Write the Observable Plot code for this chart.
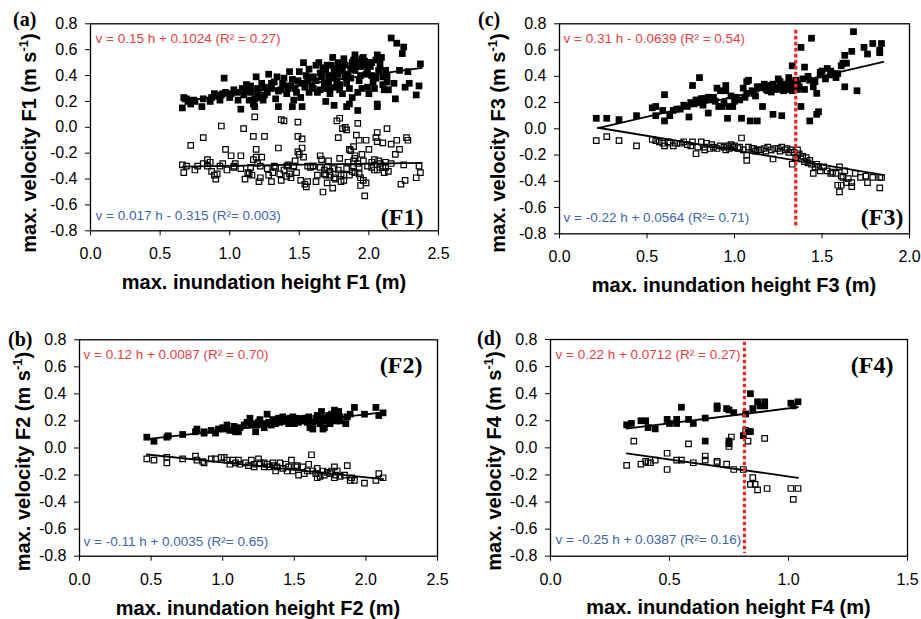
<!DOCTYPE html>
<html>
<head>
<meta charset="utf-8">
<script src="https://cdn.jsdelivr.net/npm/d3@7"></script>
<script src="https://cdn.jsdelivr.net/npm/@observablehq/plot@0.6"></script>
<style>
  body { margin: 0; background: #fff; }
  #wrap { position: relative; width: 921px; height: 619px; overflow: hidden; background: #fff; }
  #wrap svg { position: absolute; overflow: visible; }
</style>
</head>
<body>
<div id="wrap"></div>
<script>
// ---------- tick labels ----------
const yTicks = [-0.8, -0.6, -0.4, -0.2, 0, 0.2, 0.4, 0.6, 0.8];
const xTicksF1 = [0, 0.5, 1, 1.5, 2, 2.5];
const xTicksF2 = [0, 0.5, 1, 1.5, 2, 2.5];
const xTicksF3 = [0, 0.5, 1, 1.5, 2];
const xTicksF4 = [0, 0.5, 1, 1.5];

// ---------- F1 ----------
const f1Filled = [[0.66,0.15],[0.67,0.23],[0.69,0.22],[0.72,0.18],[0.74,0.21],[0.80,0.16],[0.81,0.22],[0.86,0.20],[0.87,0.23],[0.89,0.26],[0.93,0.21],[0.94,0.25],[0.96,0.38],[0.97,0.27],[1.01,0.26],[1.03,0.29],[1.06,0.21],[1.08,0.14],[1.09,0.30],[1.13,0.28],[1.14,0.21],[1.15,0.32],[1.17,0.18],[1.18,0.16],[1.19,0.39],[1.20,0.26],[1.21,0.23],[1.23,0.34],[1.25,0.31],[1.27,0.27],[1.28,0.41],[1.30,0.30],[1.32,0.35],[1.34,0.39],[1.35,0.16],[1.37,0.29],[1.38,0.34],[1.39,0.38],[1.41,0.26],[1.43,0.43],[1.44,0.32],[1.45,0.16],[1.46,0.21],[1.47,0.30],[1.49,0.36],[1.50,0.43],[1.51,0.23],[1.52,0.16],[1.53,0.50],[1.54,0.31],[1.56,0.36],[1.57,0.45],[1.59,0.32],[1.60,0.39],[1.62,0.48],[1.64,0.50],[1.65,0.29],[1.66,0.39],[1.68,0.34],[1.69,0.20],[1.70,0.48],[1.71,0.40],[1.72,0.26],[1.74,0.54],[1.75,0.43],[1.76,0.31],[1.77,0.36],[1.78,0.50],[1.80,0.47],[1.81,0.26],[1.82,0.53],[1.83,0.39],[1.84,0.34],[1.86,0.18],[1.87,0.45],[1.88,0.23],[1.89,0.52],[1.90,0.56],[1.92,0.27],[1.93,0.36],[1.94,0.47],[1.95,0.53],[1.96,0.54],[1.98,0.41],[1.99,0.31],[2.00,0.26],[2.01,0.47],[2.02,0.50],[2.04,0.30],[2.05,0.38],[2.06,0.18],[2.06,0.56],[2.07,0.44],[2.08,0.52],[2.10,0.39],[2.11,0.29],[2.13,0.40],[2.14,0.29],[2.16,0.69],[2.18,0.34],[2.19,0.22],[2.20,0.65],[2.22,0.44],[2.24,0.57],[2.25,0.62],[2.26,0.31],[2.28,0.43],[2.29,0.34],[2.34,0.25],[2.36,0.32],[2.37,0.49],[1.92,0.13],[2.06,0.16],[1.75,0.17],[1.84,0.16],
[1.55,0.40],[1.58,0.38],[1.62,0.36],[1.65,0.42],[1.67,0.46],[1.69,0.44],[1.71,0.35],[1.73,0.48],[1.74,0.38],[1.76,0.45],[1.78,0.41],[1.79,0.33],[1.81,0.44],[1.83,0.48],[1.85,0.41],[1.87,0.38],[1.88,0.50],[1.90,0.44],[1.91,0.48],[1.93,0.51],[1.94,0.40],[1.96,0.48],[1.97,0.51],[1.99,0.45],[2.00,0.50],[2.02,0.40],[2.03,0.35],[2.05,0.52],[2.08,0.47],[2.09,0.54],[2.12,0.44],[2.13,0.35],[1.60,0.30],[1.63,0.27],[1.68,0.30],[1.72,0.30],[1.79,0.29],[1.86,0.30],[1.95,0.30],[2.10,0.33],[1.20,0.30],[1.10,0.25],[1.00,0.23],[0.90,0.24],[1.15,0.27],[1.25,0.25],[1.30,0.34],[1.35,0.28],[1.40,0.32],[1.45,0.37],[1.48,0.27],[1.52,0.34],[0.75,0.20],[0.70,0.20],[0.95,0.26],[1.05,0.27],[1.12,0.33],[1.24,0.21],[1.42,0.30],[1.57,0.27],[1.33,0.22],[1.18,0.22]];
const f1Open = [[0.66,-0.29],[0.67,-0.35],[0.69,-0.30],[0.72,-0.14],[0.75,-0.33],[0.81,-0.08],[0.81,-0.28],[0.84,-0.25],[0.86,-0.27],[0.87,-0.34],[0.89,-0.37],[0.90,-0.40],[0.91,-0.36],[0.94,0.01],[0.95,-0.28],[0.97,-0.17],[0.98,-0.33],[1.01,-0.22],[1.03,-0.30],[1.04,-0.28],[1.08,-0.22],[1.08,-0.32],[1.10,-0.01],[1.11,-0.40],[1.13,-0.35],[1.14,-0.36],[1.16,-0.37],[1.17,-0.07],[1.17,-0.25],[1.18,0.08],[1.19,-0.17],[1.19,-0.23],[1.20,-0.28],[1.21,-0.42],[1.22,-0.39],[1.23,-0.23],[1.25,-0.07],[1.27,-0.32],[1.28,-0.37],[1.30,-0.42],[1.31,-0.35],[1.33,-0.31],[1.35,-0.16],[1.36,-0.36],[1.37,0.06],[1.37,-0.41],[1.39,0.05],[1.39,-0.33],[1.41,-0.38],[1.42,-0.29],[1.43,-0.36],[1.44,-0.39],[1.46,-0.30],[1.47,-0.26],[1.48,-0.35],[1.49,0.04],[1.49,-0.07],[1.49,-0.19],[1.50,-0.21],[1.51,-0.41],[1.52,-0.16],[1.52,-0.09],[1.53,-0.23],[1.54,-0.44],[1.55,-0.46],[1.56,-0.42],[1.58,-0.31],[1.60,-0.30],[1.62,-0.42],[1.63,-0.37],[1.65,-0.22],[1.66,-0.25],[1.67,-0.50],[1.68,-0.33],[1.69,-0.37],[1.70,-0.43],[1.71,-0.26],[1.72,-0.37],[1.74,-0.47],[1.75,-0.39],[1.77,0.05],[1.78,-0.08],[1.79,-0.24],[1.79,0.07],[1.80,-0.42],[1.81,-0.01],[1.82,-0.37],[1.83,0.00],[1.84,-0.02],[1.86,-0.17],[1.87,-0.18],[1.88,-0.34],[1.89,-0.26],[1.89,-0.15],[1.90,-0.22],[1.91,-0.06],[1.92,0.03],[1.92,-0.28],[1.93,-0.10],[1.93,-0.31],[1.94,-0.39],[1.94,-0.45],[1.95,-0.21],[1.96,-0.41],[1.97,-0.53],[1.98,-0.43],[1.98,-0.10],[2.00,-0.17],[2.02,-0.31],[2.04,-0.25],[2.05,-0.08],[2.06,-0.11],[2.06,-0.33],[2.06,-0.04],[2.07,-0.26],[2.08,-0.31],[2.10,-0.12],[2.11,-0.35],[2.13,-0.01],[2.14,-0.34],[2.16,-0.13],[2.19,-0.21],[2.20,-0.10],[2.22,-0.17],[2.23,-0.44],[2.25,-0.29],[2.26,-0.41],[2.27,-0.08],[2.28,-0.10],[2.34,-0.39],[2.36,-0.30],[2.37,-0.35],[2.16,-0.28],[2.12,-0.31],[1.99,-0.30],[1.96,-0.26],[1.89,-0.31],[1.84,-0.32],[1.80,-0.36],[1.75,-0.32],[1.70,-0.31],[1.65,-0.31],[1.60,-0.30],[1.56,-0.30],[1.46,-0.30],[1.41,-0.30],[1.32,-0.30],[1.22,-0.30],[1.15,-0.31],[1.03,-0.31],[0.93,-0.30],[0.84,-0.30],[0.77,-0.30],
[1.68,-0.36],[1.72,-0.34],[1.76,-0.40],[1.78,-0.33],[1.82,-0.41],[1.86,-0.37],[1.90,-0.35],[1.93,-0.36],[2.02,-0.27],[2.04,-0.33],[2.08,-0.28],[2.10,-0.30],[2.12,-0.27],[1.90,-0.24],[1.85,-0.27]];
const f1FitFilled = [0.15, 0.1024];
const f1FitOpen = [0.017, -0.315];
const f1FitRange = [0.66, 2.38];

// ---------- F2 ----------
const f2Filled = [[0.47,0.08],[0.52,0.05],[0.61,0.08],[0.62,0.09],[0.72,0.10],[0.81,0.12],[0.82,0.14],[0.87,0.11],[0.87,0.12],[0.92,0.13],[0.95,0.11],[0.97,0.14],[1.00,0.15],[1.01,0.14],[1.03,0.17],[1.05,0.13],[1.08,0.16],[1.09,0.12],[1.11,0.12],[1.12,0.15],[1.15,0.17],[1.17,0.19],[1.19,0.22],[1.20,0.17],[1.22,0.18],[1.23,0.12],[1.24,0.17],[1.26,0.21],[1.28,0.18],[1.29,0.15],[1.31,0.25],[1.32,0.19],[1.34,0.17],[1.36,0.20],[1.37,0.18],[1.39,0.22],[1.40,0.19],[1.42,0.23],[1.44,0.20],[1.46,0.18],[1.47,0.22],[1.49,0.23],[1.50,0.18],[1.52,0.22],[1.53,0.21],[1.55,0.20],[1.57,0.22],[1.59,0.19],[1.60,0.23],[1.61,0.17],[1.63,0.19],[1.63,0.14],[1.65,0.22],[1.66,0.24],[1.68,0.18],[1.69,0.27],[1.70,0.22],[1.71,0.15],[1.72,0.20],[1.73,0.22],[1.74,0.24],[1.75,0.18],[1.76,0.25],[1.78,0.28],[1.79,0.20],[1.80,0.24],[1.82,0.23],[1.86,0.18],[1.87,0.23],[1.89,0.25],[1.92,0.30],[1.99,0.25],[2.07,0.30],[2.09,0.24],[2.12,0.26],[1.61,0.15],[1.70,0.14],[1.81,0.27],[1.82,0.20],[1.45,0.21],[1.58,0.21],[1.67,0.20],[1.35,0.21],[1.25,0.19],[1.53,0.19],[1.74,0.21],[1.77,0.21],[1.41,0.20]];
const f2Open = [[0.47,-0.08],[0.52,-0.09],[0.61,-0.07],[0.61,-0.11],[0.72,-0.08],[0.81,-0.06],[0.82,-0.09],[0.86,-0.10],[0.87,-0.11],[0.92,-0.08],[0.95,-0.08],[0.99,-0.07],[1.01,-0.07],[1.03,-0.09],[1.05,-0.12],[1.07,-0.09],[1.09,-0.11],[1.11,-0.09],[1.12,-0.12],[1.16,-0.11],[1.18,-0.13],[1.20,-0.09],[1.22,-0.12],[1.25,-0.08],[1.26,-0.11],[1.29,-0.11],[1.31,-0.12],[1.33,-0.14],[1.35,-0.11],[1.36,-0.13],[1.38,-0.14],[1.40,-0.11],[1.42,-0.15],[1.44,-0.12],[1.46,-0.14],[1.48,-0.09],[1.49,-0.17],[1.51,-0.14],[1.52,-0.13],[1.53,-0.20],[1.56,-0.14],[1.57,-0.19],[1.59,-0.17],[1.60,-0.12],[1.62,-0.05],[1.63,-0.17],[1.65,-0.19],[1.66,-0.15],[1.68,-0.21],[1.70,-0.17],[1.71,-0.20],[1.73,-0.18],[1.75,-0.19],[1.76,-0.17],[1.78,-0.14],[1.79,-0.20],[1.80,-0.17],[1.82,-0.21],[1.85,-0.20],[1.87,-0.13],[1.89,-0.24],[1.90,-0.22],[1.92,-0.24],[1.99,-0.26],[2.07,-0.24],[2.09,-0.19],[2.12,-0.22],[1.37,-0.17],[1.45,-0.17],[1.66,-0.22],[1.78,-0.22],[1.29,-0.14],[1.22,-0.14]];
const f2FitFilled = [0.12, 0.0087];
const f2FitOpen = [-0.11, 0.0035];
const f2FitRange = [0.47, 2.12];

// ---------- F3 ----------
const f3Filled = [[0.21,0.08],[0.27,0.08],[0.34,0.07],[0.44,0.10],[0.53,0.16],[0.55,0.17],[0.55,0.10],[0.59,0.14],[0.60,0.26],[0.60,0.06],[0.63,0.10],[0.65,0.14],[0.67,0.15],[0.69,0.15],[0.71,0.18],[0.73,0.17],[0.74,0.09],[0.75,0.20],[0.76,0.33],[0.77,0.19],[0.78,0.22],[0.79,0.20],[0.80,0.39],[0.81,0.23],[0.82,0.18],[0.83,0.23],[0.85,0.12],[0.85,0.24],[0.87,0.22],[0.88,0.24],[0.90,0.31],[0.91,0.17],[0.92,0.29],[0.93,0.17],[0.95,0.33],[0.95,0.29],[0.96,0.08],[0.97,0.17],[0.98,0.25],[0.99,0.17],[1.01,0.24],[1.03,0.22],[1.04,0.08],[1.05,0.31],[1.07,0.27],[1.07,0.36],[1.08,0.37],[1.09,0.06],[1.10,0.29],[1.11,0.27],[1.13,0.06],[1.13,0.32],[1.15,0.32],[1.16,0.17],[1.17,0.34],[1.19,0.29],[1.19,0.33],[1.22,0.34],[1.22,0.11],[1.23,0.31],[1.24,0.30],[1.25,0.38],[1.26,0.36],[1.27,0.10],[1.27,0.31],[1.29,0.34],[1.30,0.30],[1.31,0.39],[1.32,0.31],[1.33,0.48],[1.34,0.32],[1.35,0.37],[1.36,0.30],[1.36,0.34],[1.38,0.62],[1.38,0.17],[1.39,0.38],[1.40,0.47],[1.40,0.30],[1.42,0.40],[1.43,0.37],[1.43,0.06],[1.44,0.69],[1.45,0.32],[1.46,0.36],[1.47,0.27],[1.47,0.11],[1.48,0.13],[1.49,0.41],[1.49,0.43],[1.50,0.44],[1.52,0.38],[1.53,0.46],[1.55,0.44],[1.55,0.41],[1.57,0.42],[1.58,0.39],[1.59,0.42],[1.61,0.48],[1.62,0.50],[1.63,0.32],[1.63,0.56],[1.64,0.50],[1.67,0.59],[1.68,0.74],[1.70,0.29],[1.74,0.62],[1.76,0.57],[1.79,0.65],[1.83,0.58],[1.83,0.60],[1.84,0.65],[1.18,0.30],[1.21,0.28],[1.26,0.33],[1.28,0.29],[1.31,0.35],[1.33,0.29],[1.37,0.32],[1.12,0.25],[1.00,0.21],[0.94,0.20],[0.89,0.21],[1.06,0.24],[1.34,0.35],[1.29,0.31]];
const f3Open = [[0.21,-0.09],[0.27,-0.06],[0.34,-0.09],[0.44,-0.13],[0.53,-0.08],[0.55,-0.09],[0.57,-0.10],[0.59,-0.11],[0.60,-0.13],[0.62,-0.10],[0.63,-0.11],[0.65,-0.13],[0.67,-0.11],[0.69,-0.11],[0.71,-0.10],[0.73,-0.12],[0.75,-0.13],[0.76,-0.10],[0.78,-0.19],[0.79,-0.14],[0.81,-0.10],[0.83,-0.16],[0.83,-0.14],[0.84,-0.11],[0.86,-0.15],[0.88,-0.14],[0.90,-0.15],[0.92,-0.13],[0.94,-0.14],[0.95,-0.16],[0.96,-0.13],[0.98,-0.12],[0.99,-0.14],[1.00,-0.13],[1.02,-0.15],[1.03,-0.14],[1.04,-0.07],[1.05,-0.16],[1.07,-0.24],[1.07,-0.20],[1.08,-0.14],[1.10,-0.15],[1.11,-0.15],[1.13,-0.16],[1.15,-0.16],[1.17,-0.15],[1.19,-0.14],[1.21,-0.16],[1.22,-0.23],[1.23,-0.15],[1.25,-0.15],[1.27,-0.14],[1.29,-0.16],[1.30,-0.15],[1.32,-0.16],[1.33,-0.27],[1.34,-0.18],[1.35,-0.22],[1.36,-0.16],[1.37,-0.19],[1.38,-0.23],[1.40,-0.25],[1.41,-0.22],[1.43,-0.24],[1.44,-0.27],[1.45,-0.34],[1.46,-0.29],[1.48,-0.29],[1.49,-0.32],[1.51,-0.29],[1.53,-0.32],[1.56,-0.33],[1.58,-0.34],[1.60,-0.29],[1.61,-0.36],[1.61,-0.43],[1.62,-0.37],[1.63,-0.32],[1.64,-0.41],[1.65,-0.38],[1.67,-0.44],[1.67,-0.41],[1.69,-0.34],[1.72,-0.37],[1.75,-0.36],[1.76,-0.41],[1.79,-0.37],[1.83,-0.37],[1.83,-0.45],[1.84,-0.37],[1.59,-0.43],[1.60,-0.48],[1.55,-0.34],[1.12,-0.17],[1.18,-0.17],[1.26,-0.17],[1.31,-0.18],[1.36,-0.20],[0.97,-0.15],[0.87,-0.12],[1.39,-0.21],[1.42,-0.26],[1.47,-0.27]];
const f3FitFilled = [0.31, -0.0639];
const f3FitOpen = [-0.22, 0.0564];
const f3FitRange = [0.22, 1.85];
const f3Threshold = 1.35;

// ---------- F4 ----------
const f4Filled = [[0.32,0.17],[0.34,0.18],[0.38,0.20],[0.40,0.20],[0.41,0.15],[0.44,0.14],[0.49,0.21],[0.50,0.18],[0.53,0.21],[0.53,0.18],[0.55,0.30],[0.58,0.21],[0.60,0.18],[0.65,0.05],[0.65,0.22],[0.70,0.31],[0.70,0.29],[0.74,0.29],[0.75,0.28],[0.77,0.26],[0.82,0.25],[0.83,0.12],[0.84,0.12],[0.84,0.40],[0.85,0.29],[0.87,0.34],[0.88,0.31],[0.90,0.34],[0.90,0.31],[1.01,0.33],[1.02,0.31],[1.04,0.34],[0.81,0.09],[0.75,0.05],[0.75,0.03]];
const f4Open = [[0.35,0.05],[0.58,0.03],[0.32,-0.13],[0.38,-0.12],[0.40,-0.10],[0.41,-0.11],[0.42,-0.11],[0.44,-0.09],[0.49,-0.04],[0.49,-0.16],[0.53,-0.09],[0.55,-0.09],[0.60,-0.11],[0.65,-0.06],[0.65,-0.09],[0.70,-0.10],[0.70,-0.11],[0.74,-0.12],[0.76,0.08],[0.75,0.01],[0.77,-0.16],[0.81,-0.16],[0.82,0.13],[0.83,0.05],[0.90,0.07],[0.85,-0.22],[0.84,-0.27],[0.86,-0.27],[0.87,-0.31],[0.91,-0.30],[1.01,-0.30],[1.04,-0.30],[1.02,-0.38]];
const f4FitFilled = [0.22, 0.0712];
const f4FitOpen = [-0.25, 0.0387];
const f4FitRange = [0.32, 1.04];
const f4Threshold = 0.815;

// ---------- texts ----------
const panelLetters = ["(a)", "(b)", "(c)", "(d)"];
const panelNames = ["(F1)", "(F2)", "(F3)", "(F4)"];
const eqFilled = ["v = 0.15 h + 0.1024 (R² = 0.27)", "v = 0.12 h + 0.0087 (R² = 0.70)", "v = 0.31 h - 0.0639 (R² = 0.54)", "v = 0.22 h + 0.0712 (R² = 0.27)"];
const eqOpen = ["v = 0.017 h - 0.315 (R²= 0.003)", "v = -0.11 h + 0.0035 (R²= 0.65)", "v = -0.22 h + 0.0564 (R²= 0.71)", "v = -0.25 h + 0.0387 (R²= 0.16)"];
const xTitles = ["max. inundation height F1 (m)", "max. inundation height F2 (m)", "max. inundation height F3 (m)", "max. inundation height F4 (m)"];
const yTitles = ["max. velocity F1 (m s", "max. velocity F2 (m s", "max. velocity F3 (m s", "max. velocity F4 (m s"];

const RED = "#e8403f";
const BLUE = "#3d64ad";
const SANS = "Liberation Sans, Arial, Helvetica, sans-serif";
const SERIF = "Liberation Serif, Times New Roman, serif";

const wrap = document.getElementById("wrap");
const fmt = d => d.toFixed(1);

function fitLine(coef, range) {
  return range.map(h => ({h, v: coef[0] * h + coef[1]}));
}

function panel(cfg) {
  const marks = [
    Plot.frame({stroke: "#000", strokeWidth: 1.3}),
    Plot.dot(cfg.filled, {x: d => d[0], y: d => d[1], symbol: "square", r: 3.8, fill: "#000", stroke: "none"}),
    Plot.dot(cfg.open, {x: d => d[0], y: d => d[1], symbol: "square", r: 3.1, fill: "none", stroke: "#000", strokeWidth: 1.2}),
    Plot.line(fitLine(cfg.fitF, cfg.range), {x: "h", y: "v", stroke: "#000", strokeWidth: 1.8}),
    Plot.line(fitLine(cfg.fitO, cfg.range), {x: "h", y: "v", stroke: "#000", strokeWidth: 1.8}),
  ];
  if (cfg.threshold != null) {
    marks.push(Plot.ruleX([cfg.threshold], {y1: cfg.thrY[0], y2: cfg.thrY[1], stroke: "#e3282a", strokeWidth: 3.2, strokeDasharray: "3.6,2.4"}));
  }
  marks.push(
    Plot.text([cfg.eqF], {frameAnchor: "top-left", textAnchor: "start", lineAnchor: "middle", dx: cfg.eqFpos[0], dy: cfg.eqFpos[1], fill: RED, fontSize: 13.5, fontFamily: SANS}),
    Plot.text([cfg.eqO], {frameAnchor: "bottom-left", textAnchor: "start", lineAnchor: "middle", dx: cfg.eqOpos[0], dy: cfg.eqOpos[1], fill: BLUE, fontSize: 13.5, fontFamily: SANS}),
    Plot.text([cfg.name], {frameAnchor: cfg.nameAnchor, textAnchor: "end", lineAnchor: "middle", dx: cfg.namePos[0], dy: cfg.namePos[1], fill: "#000", fontSize: 24, fontWeight: "bold", fontFamily: SERIF})
  );
  const svg = Plot.plot({
    width: cfg.w, height: cfg.h,
    marginLeft: cfg.m[0], marginRight: cfg.m[1], marginTop: cfg.m[2], marginBottom: cfg.m[3],
    x: {domain: [0, cfg.xTicks[cfg.xTicks.length - 1]], ticks: cfg.xTicks, tickFormat: fmt, tickSize: 5, tickPadding: 12, label: null},
    y: {domain: [-0.8, 0.8], ticks: yTicks, tickFormat: fmt, tickSize: 5, tickPadding: 8, label: null},
    style: {fontFamily: SANS, fontSize: "16px", color: "#000", background: "transparent", overflow: "visible"},
    marks
  });
  svg.style.left = cfg.left + "px";
  svg.style.top = cfg.top + "px";
  const s = d3.select(svg);
  s.append("text").attr("x", cfg.letterPos[0]).attr("y", cfg.letterPos[1])
    .attr("text-anchor", "start")
    .attr("font-family", SERIF).attr("font-weight", "bold").attr("font-size", 20).attr("fill", "#000")
    .text(cfg.letter);
  s.append("text").attr("x", cfg.xTitlePos[0]).attr("y", cfg.xTitlePos[1])
    .attr("text-anchor", "middle").attr("font-family", SANS).attr("font-weight", "bold").attr("font-size", 20).attr("fill", "#000")
    .text(cfg.xTitle);
  const yt = s.append("text")
    .attr("transform", `translate(${cfg.yTitlePos[0]},${cfg.yTitlePos[1]}) rotate(-90)`)
    .attr("text-anchor", "middle").attr("font-family", SANS).attr("font-weight", "bold").attr("font-size", 20).attr("fill", "#000");
  yt.append("tspan").text(cfg.yTitle);
  yt.append("tspan").attr("dy", -8).attr("font-size", 13).text("-1");
  yt.append("tspan").attr("dy", 8).text(")");
  wrap.appendChild(svg);
}

panel({left: 0, top: 0, w: 460, h: 305, m: [90, 22, 23.3, 74.7], xTicks: xTicksF1,
  filled: f1Filled, open: f1Open, fitF: f1FitFilled, fitO: f1FitOpen, range: f1FitRange,
  eqF: eqFilled[0], eqO: eqOpen[0], eqFpos: [5, 14.7], eqOpos: [5, -15.3],
  name: panelNames[0], nameAnchor: "bottom-right", namePos: [-15, -13],
  letter: panelLetters[0], letterPos: [13, 26], xTitle: xTitles[0], xTitlePos: [264, 289], yTitle: yTitles[0], yTitlePos: [36, 143]});

panel({left: 0, top: 310, w: 460, h: 309, m: [79, 23, 29.3, 63.3], xTicks: xTicksF2,
  filled: f2Filled, open: f2Open, fitF: f2FitFilled, fitO: f2FitOpen, range: f2FitRange,
  eqF: eqFilled[1], eqO: eqOpen[1], eqFpos: [4, 14.7], eqOpos: [4, -14.7],
  name: panelNames[1], nameAnchor: "top-right", namePos: [-15, 25.7],
  letter: panelLetters[1], letterPos: [8, 36], xTitle: xTitles[1], xTitlePos: [258, 305], yTitle: yTitles[1], yTitlePos: [30, 151.5]});

panel({left: 460, top: 0, w: 461, h: 305, m: [99, 12, 23.3, 71.7], xTicks: xTicksF3,
  filled: f3Filled, open: f3Open, fitF: f3FitFilled, fitO: f3FitOpen, range: f3FitRange,
  threshold: f3Threshold, thrY: [0.75, -0.76],
  eqF: eqFilled[2], eqO: eqOpen[2], eqFpos: [4, 14.7], eqOpos: [4, -16],
  name: panelNames[2], nameAnchor: "bottom-right", namePos: [-6, -16],
  letter: panelLetters[2], letterPos: [18, 26], xTitle: xTitles[2], xTitlePos: [274, 292], yTitle: yTitles[2], yTitlePos: [45, 143]});

panel({left: 460, top: 310, w: 461, h: 309, m: [90, 14, 29, 63.3], xTicks: xTicksF4,
  filled: f4Filled, open: f4Open, fitF: f4FitFilled, fitO: f4FitOpen, range: f4FitRange,
  threshold: f4Threshold, thrY: [0.78, -0.78],
  eqF: eqFilled[3], eqO: eqOpen[3], eqFpos: [5, 15], eqOpos: [5, -16.7],
  name: panelNames[3], nameAnchor: "top-right", namePos: [-14, 26],
  letter: panelLetters[3], letterPos: [17, 35], xTitle: xTitles[3], xTitlePos: [268.5, 304], yTitle: yTitles[3], yTitlePos: [41, 151]});
</script>
</body>
</html>
